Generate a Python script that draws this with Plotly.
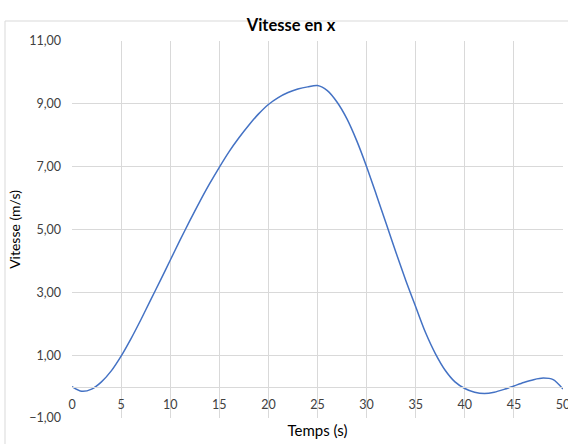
import plotly.graph_objects as go

temps = list(range(0, 51))
vitesse = [0.00, -0.15, -0.08, 0.15, 0.50, 0.97, 1.52, 2.12, 2.75, 3.38,
           4.02, 4.66, 5.28, 5.88, 6.45, 6.98, 7.48, 7.92, 8.32, 8.68,
           8.98, 9.20, 9.36, 9.47, 9.54, 9.58, 9.42, 9.05, 8.52, 7.82,
           7.00, 6.10, 5.18, 4.26, 3.37, 2.54, 1.72, 1.05, 0.52, 0.15,
           -0.06, -0.18, -0.22, -0.18, -0.09, 0.02, 0.13, 0.22, 0.27, 0.22,
           -0.08]
x_ticks = list(range(0, 51, 5))
y_ticks = [-1, 1, 3, 5, 7, 9, 11]

FONT = "Lato"
GRID = "#d9d9d9"

fig = go.Figure()
fig.add_trace(go.Scatter(
    x=temps, y=vitesse, mode="lines",
    line=dict(color="#4472C4", width=1.5, shape="spline", smoothing=0.8),
    hoverinfo="x+y", showlegend=False,
))

L, R, T, B = 72, 5, 41, 26
W, H = 568, 444
pw, ph = W - L - R, H - T - B

fig.update_layout(
    width=W, height=H,
    margin=dict(l=L, r=R, t=T, b=B, autoexpand=False),
    paper_bgcolor="white", plot_bgcolor="white",
    separators=", ",
    font=dict(family=FONT, color="#404040", size=12),
    title=dict(text="<b>Vitesse en x</b>", x=291 / W, xref="container", xanchor="center",
               y=1 - 25 / H, yref="container", yanchor="middle",
               font=dict(family=FONT, size=16.5, color="#000000")),
    xaxis=dict(range=[0, 50], tickvals=x_ticks, ticktext=[str(v) for v in x_ticks],
               showgrid=True, gridcolor=GRID, gridwidth=1,
               showline=True, linecolor=GRID, linewidth=1,
               zeroline=False, ticks="", anchor="free", position=1 / 12,
               ticklabelstandoff=6, automargin=False, ticklabeloverflow="allow",
               tickfont=dict(family=FONT, size=12.5, color="#404040"),
               title=dict(text="Temps (s)", standoff=14,
                          font=dict(family=FONT, size=15, color="#000000"))),
    yaxis=dict(range=[-1, 11], tickvals=y_ticks, tickformat=".2f",
               showgrid=True, gridcolor=GRID, gridwidth=1,
               zeroline=False, showline=False, ticks="",
               ticklabelstandoff=10, automargin=False,
               tickfont=dict(family=FONT, size=12.5, color="#404040"),
               title=dict(text="Vitesse (m/s)", standoff=5,
                          font=dict(family=FONT, size=14, color="#000000"))),
)

# chart-area frame (partially outside the visible window, as in the reference)
fig.add_shape(type="rect", xref="paper", yref="paper",
              x0=(5 - L) / pw, x1=(W + 5 - L) / pw,
              y0=-(B + 5) / ph, y1=(H - T - 6) / ph,
              line=dict(color="#d9d9d9", width=1), fillcolor="rgba(0,0,0,0)", layer="below")

fig.write_html("out.html", config={"displayModeBar": False},
               post_script="document.body.style.margin='0';")
